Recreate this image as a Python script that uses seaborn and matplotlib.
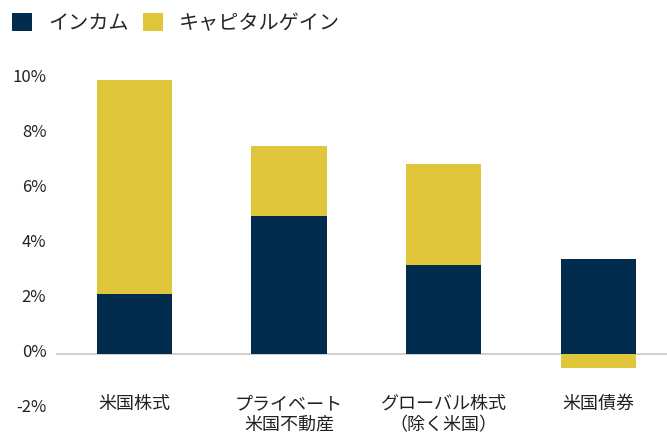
import matplotlib
matplotlib.use("Agg")
import matplotlib.pyplot as plt
import matplotlib.transforms as mtransforms
from matplotlib.patches import Patch
import seaborn as sns
import pandas as pd

categories = ["米国株式", "プライベート\n米国不動産", "グローバル株式\n（除く米国）", "米国債券"]
income = [2.2, 5.05, 3.27, 3.48]
capital_gain = [7.8, 2.55, 3.66, -0.5]
series_names = ["インカム", "キャピタルゲイン"]
yticks = [-2, 0, 2, 4, 6, 8, 10]

NAVY = "#022C4E"
YELLOW = "#E0C63B"

sns.set_theme(style="white")
plt.rcParams["font.family"] = ["Noto Sans CJK JP", "DejaVu Sans"]

# yellow segment drawn from 0 up to the total when positive, otherwise from 0 downwards
yellow_tops = [i + c if c > 0 else c for i, c in zip(income, capital_gain)]
df = pd.DataFrame({"cat": categories, "income": income, "yellow": yellow_tops})

fig = plt.figure(figsize=(6.67, 4.34), dpi=100)
ax = fig.add_axes([56 / 667, 1 - 409 / 434, (667 - 56) / 667, (409 - 80) / 434])

sns.barplot(data=df, x="cat", y="yellow", color=YELLOW, saturation=1, width=0.485,
            ax=ax, edgecolor="none", linewidth=0)
sns.barplot(data=df, x="cat", y="income", color=NAVY, saturation=1, width=0.485,
            ax=ax, edgecolor="none", linewidth=0)

ax.set_ylim(-2, 10)
ax.set_xlim(-0.504, 3.44)
ax.set_yticks(yticks)
ax.set_yticklabels([f"{t}%" for t in yticks], fontsize=12, color="#222222")
ax.tick_params(axis="y", length=0, pad=7)
ax.tick_params(axis="x", length=0, pad=-10, labelsize=13, labelcolor="#222222")
offset = mtransforms.ScaledTranslation(0, 4 / 100, fig.dpi_scale_trans)
for lbl in ax.get_yticklabels():
    lbl.set_transform(lbl.get_transform() + offset)
ax.set_xlabel("")
ax.set_ylabel("")
for s in ax.spines.values():
    s.set_visible(False)
ax.axhline(0, color="#C8C8C8", linewidth=1.2, zorder=0)
ax.grid(False)

handles = [Patch(facecolor=NAVY, edgecolor="none"), Patch(facecolor=YELLOW, edgecolor="none")]
fig.legend(handles, series_names, loc="upper left", bbox_to_anchor=(12 / 667, 1 - 13 / 434),
           ncol=2, frameon=False, fontsize=14.5, handlelength=1.0, handleheight=1.0,
           handletextpad=0.8, columnspacing=0.7, borderpad=0, borderaxespad=0)

fig.savefig("out.png", dpi=100)
